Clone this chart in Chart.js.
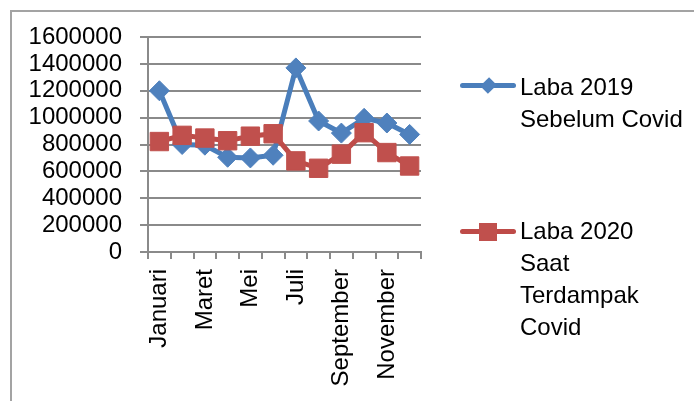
<!DOCTYPE html>
<html>
<head>
<meta charset="utf-8">
<script src="https://cdn.jsdelivr.net/npm/chart.js@4.4.1/dist/chart.umd.min.js"></script>
<style>
  html, body { margin: 0; padding: 0; background: #fff; }
  body { width: 694px; height: 401px; position: relative; overflow: hidden; font-family: 'Liberation Sans', Arial, sans-serif; }
  #frame { position: absolute; left: 10px; top: 10px; width: 720px; height: 420px; border: 2px solid #a3a3a3; box-sizing: border-box; }
  #wrap { position: absolute; left: 0; top: 0; width: 694px; height: 401px; }
  .leg { position: absolute; left: 520px; font-size: 24px; line-height: 32px; color: #000; white-space: nowrap; }
  .mk { position: absolute; left: 460px; width: 56px; height: 5px; border-radius: 3px; }
  .mk span { position: absolute; left: 50%; top: 50%; }
</style>
</head>
<body>
<div id="frame"></div>
<div id="wrap"><canvas id="chart" width="694" height="401"></canvas></div>
<div id="legend"></div>
<script>
// months on the x axis
const months = ["Januari", "Februari", "Maret", "April", "Mei", "Juni", "Juli", "Agustus", "September", "Oktober", "November", "Desember"];

// values
const laba2019 = [1200000, 800000, 795000, 705000, 700000, 720000, 1370000, 975000, 885000, 995000, 960000, 875000];
const laba2020 = [822000, 868000, 848000, 828000, 862000, 880000, 678000, 623000, 728000, 888000, 740000, 640000];

// legend text, one entry per line
const label2019 = ["Laba 2019", "Sebelum Covid"];
const label2020 = ["Laba 2020", "Saat", "Terdampak", "Covid"];

const yTicks = [0, 200000, 400000, 600000, 800000, 1000000, 1200000, 1400000, 1600000];

const blueLine = "#4a7ebb", blueMark = "#4f81bd";
const redLine = "#be4b48", redMark = "#c0504d";
const gridCol = "#8a8a8a";

Chart.defaults.font.family = "'Liberation Sans', Arial, sans-serif";
Chart.defaults.font.size = 24;
Chart.defaults.color = "#000";

const ctx = document.getElementById("chart");
const chart = new Chart(ctx, {
  type: "line",
  data: {
    labels: months,
    datasets: [
      {
        label: label2019.join(" "),
        data: laba2019,
        borderColor: blueLine,
        borderWidth: 5,
        pointStyle: "rectRot",
        pointRadius: 10,
        pointBackgroundColor: blueMark,
        pointBorderColor: blueMark,
        pointBorderWidth: 1,
        tension: 0,
        order: 1
      },
      {
        label: label2020.join(" "),
        data: laba2020,
        borderColor: redLine,
        borderWidth: 5,
        pointStyle: "rect",
        pointRadius: 13,
        pointBackgroundColor: redMark,
        pointBorderColor: redMark,
        pointBorderWidth: 1,
        tension: 0,
        order: 0
      }
    ]
  },
  options: {
    responsive: false,
    animation: false,
    layout: { padding: { left: 0, top: 37, right: 273, bottom: 0 } },
    plugins: { legend: { display: false }, tooltip: { enabled: false } },
    scales: {
      x: {
        offset: true,
        grid: { offset: true, drawOnChartArea: false, drawTicks: true, tickLength: 7, color: gridCol, lineWidth: 2 },
        border: { color: gridCol, width: 2 },
        ticks: {
          autoSkip: false,
          minRotation: 90,
          maxRotation: 90,
          padding: 10,
          callback: (v, i) => (i % 2 === 0 ? months[i] : "")
        },
        afterFit: (s) => { s.height = 149; }
      },
      y: {
        min: 0,
        max: 1600000,
        afterBuildTicks: (s) => { s.ticks = yTicks.map(v => ({ value: v })); },
        grid: { color: gridCol, lineWidth: 2, tickLength: 8 },
        border: { color: gridCol, width: 2 },
        ticks: { autoSkip: false, padding: 18, callback: (v) => String(v) },
        afterFit: (s) => { s.width = 148; }
      }
    }
  }
});

// legend drawn as html next to the plot
function legendItem(lines, top, markTop, col, markCol, square) {
  const box = document.getElementById("legend");
  const mk = document.createElement("div");
  mk.className = "mk";
  mk.style.top = markTop + "px";
  mk.style.background = col;
  const p = document.createElement("span");
  if (square) {
    p.style.cssText = "width:18px;height:18px;margin:-9px 0 0 -9px;background:" + markCol;
  } else {
    p.style.cssText = "width:11px;height:11px;margin:-5.5px 0 0 -5.5px;transform:rotate(45deg) scale(1,1.15);background:" + markCol;
  }
  mk.appendChild(p);
  box.appendChild(mk);
  const t = document.createElement("div");
  t.className = "leg";
  t.style.top = top + "px";
  t.innerHTML = lines.join("<br>");
  box.appendChild(t);
}
legendItem(label2019, 71, 83, blueLine, blueMark, false);
legendItem(label2020, 215, 229, redLine, redMark, true);
</script>
</body>
</html>
